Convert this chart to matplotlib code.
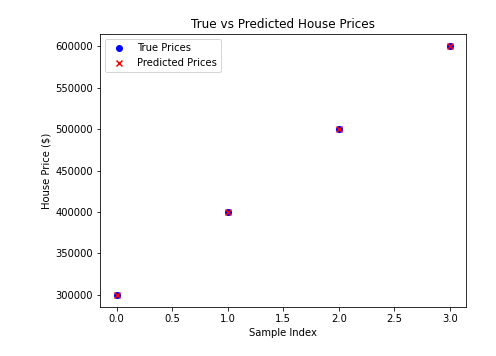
import matplotlib
matplotlib.use("Agg")
import matplotlib.pyplot as plt

sample_index = [0, 1, 2, 3]
true_prices = [300000, 400000, 500000, 600000]
predicted_prices = [300000, 400000, 500000, 600000]

# rendered at 72 dpi, so the text is a little smaller than the usual 100 dpi
fig, ax = plt.subplots(figsize=(496 / 72, 356 / 72), dpi=72)
fig.subplots_adjust(left=0.2016, right=0.9405, top=0.9045, bottom=0.1376)

ax.scatter(sample_index, true_prices, color='blue', label='True Prices')
ax.scatter(sample_index, predicted_prices, color='red', marker='x', label='Predicted Prices')
ax.set_title('True vs Predicted House Prices')
ax.set_xlabel('Sample Index')
ax.set_ylabel('House Price ($)')
ax.legend(loc='upper left')

fig.savefig('out.png', dpi=72)
